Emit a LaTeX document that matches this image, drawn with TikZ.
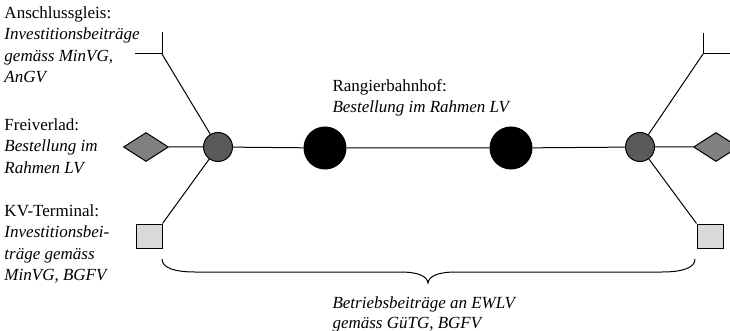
\documentclass[tikz,border=0pt]{standalone}
\usepackage{fontspec}
\setmainfont{Liberation Serif}
\usetikzlibrary{shapes.geometric}
\definecolor{hubgray}{RGB}{90,90,90}
\definecolor{diagray}{RGB}{128,128,128}
\definecolor{sqgray}{RGB}{217,217,217}
\begin{document}
\begin{tikzpicture}[x=1pt,y=-1pt,line width=1pt,
  hub/.style={circle,draw,fill=hubgray,minimum size=29pt,inner sep=0pt},
  yard/.style={circle,draw,fill=black,minimum size=42pt,inner sep=0pt},
  dia/.style={diamond,draw,fill=diagray,minimum width=45pt,minimum height=29pt,inner sep=0pt},
  sq/.style={rectangle,draw,fill=sqgray,minimum width=26pt,minimum height=24pt,inner sep=0pt},
  lbl/.style={anchor=north west,inner sep=0pt,align=left,font=\fontsize{17}{21.5}\selectfont}]
\useasboundingbox (0,0) rectangle (730,331);
% nodes
\node[hub] (hl) at (218,147) {};
\node[hub] (hr) at (640,147) {};
\node[yard] (y1) at (325,148) {};
\node[yard] (y2) at (511,148) {};
\node[dia] (dl) at (146,147) {};
\node[dia] (dr) at (716,147) {};
\node[sq] (sl) at (149,236) {};
\node[sq] (sr) at (710,236) {};
% T ends of sidings
\coordinate (tl) at (162,54);
\coordinate (tlt) at (162,32);
\coordinate (tll) at (135,54);
\coordinate (tr) at (703,54);
\coordinate (trt) at (703,33);
\coordinate (trr) at (730,54);
% connectors
\draw (dl) -- (hl) -- (y1) -- (y2) -- (hr) -- (dr);
\draw (hl) -- (tl);
\draw (tlt) -- (tl) -- (tll);
\draw (hl) -- (sl.north east);
\draw (hr) -- (tr);
\draw (trt) -- (tr) -- (trr);
\draw (hr) -- (sr.north west);
% brace
\coordinate (b1) at (162,259);
\coordinate (b2) at (695,259);
\coordinate (bt) at (428,283);
\draw (b1) .. controls (162,268) and (175,272) .. (195,272) -- (400,272)
  .. controls (418,272) and (427,276) .. (bt)
  .. controls (429,276) and (438,272) .. (456,272) -- (662,272)
  .. controls (682,272) and (695,268) .. (b2);
% labels
\node[lbl] (la) at (4,6) {Anschlussgleis:\\\textit{Investitionsbeiträge}\\\textit{gemäss MinVG,}\\\textit{AnGV}};
\node[lbl] (lf) at (4,118) {Freiverlad:\\\textit{Bestellung im}\\\textit{Rahmen LV}};
\node[lbl] (lk) at (4,204) {KV-Terminal:\\\textit{Investitionsbei-}\\\textit{träge gemäss}\\\textit{MinVG, BGFV}};
\node[lbl] (lr) at (332,79) {Rangierbahnhof:\\\textit{Bestellung im Rahmen LV}};
\node[lbl,font=\fontsize{17}{20.5}\selectfont] (lb) at (332,296) {\textit{Betriebsbeiträge an EWLV}\\\textit{gemäss GüTG, BGFV}};
\end{tikzpicture}
\end{document}
